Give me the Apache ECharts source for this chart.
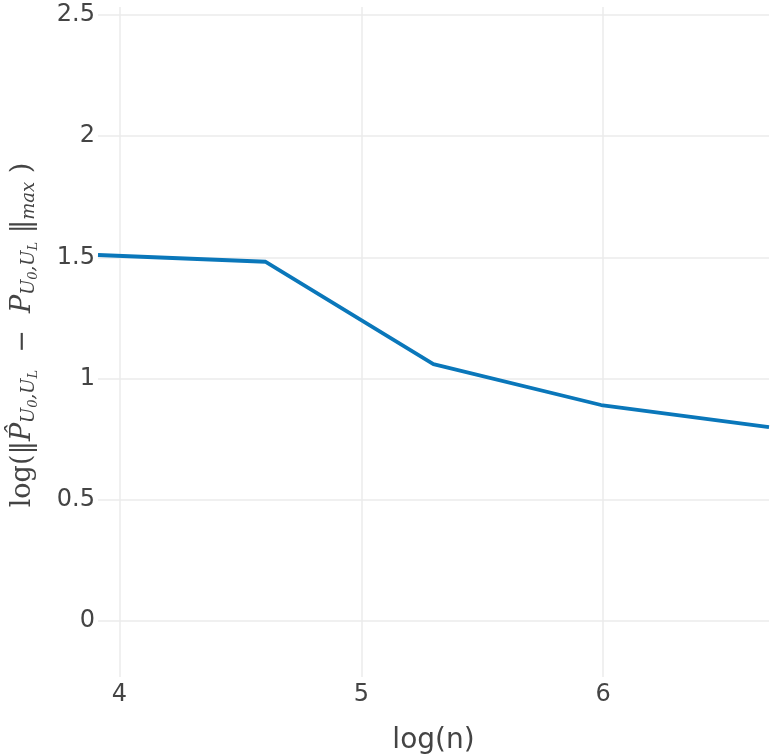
<!DOCTYPE html>
<html>
<head>
<meta charset="utf-8">
<script src="https://cdn.jsdelivr.net/npm/echarts@6/dist/echarts.min.js"></script>
<style>
  html, body { margin: 0; padding: 0; background: #fff; }
  #main { width: 776px; height: 754px; }
</style>
</head>
<body>
<div id="main"></div>
<script>
// log(n) for n = 50, 100, 200, 400, 800
var logN = [3.912, 4.605, 5.298, 5.991, 6.685];
// log of max error
var logErr = [1.510, 1.482, 1.060, 0.891, 0.800];
var xTicks = [4, 5, 6];
var yTicks = [0, 0.5, 1, 1.5, 2, 2.5];

var seriesData = [];
for (var i = 0; i < logN.length; i++) {
    seriesData.push([logN[i], logErr[i]]);
}

var myChart = echarts.init(document.getElementById('main'));

var serif = 'DejaVu Serif';
var option = {
    backgroundColor: '#fff',
    animation: false,
    grid: {
        left: 98,
        right: 7,
        top: 7,
        bottom: 77,
        outerBoundsMode: 'none'
    },
    xAxis: {
        type: 'value',
        min: 3.912,
        max: 6.685,
        name: 'log(n)',
        nameLocation: 'middle',
        nameGap: 50,
        nameTextStyle: { color: '#444', fontSize: 28, fontFamily: 'DejaVu Sans' },
        axisLine: { show: false },
        axisTick: { show: false, customValues: xTicks },
        axisLabel: {
            customValues: xTicks,
            color: '#444', fontSize: 24, fontFamily: 'DejaVu Sans', margin: 6
        },
        splitLine: { show: true, lineStyle: { color: '#ebebeb', width: 1.5 } }
    },
    yAxis: {
        type: 'value',
        min: -0.231,
        max: 2.533,
        name: '{t|log(‖}{p|P̂}{s|U}{ss|0}{s|,U}{ss|L}{t|  −  }{p|P}{s|U}{ss|0}{s|,U}{ss|L}{t| ‖}{s|max}{t| )}',
        nameLocation: 'middle',
        nameRotate: 90,
        nameGap: 58,
        nameTextStyle: {
            color: '#444',
            padding: [0, 0, 0, 14],
            rich: {
                t: { fontSize: 27, fontFamily: serif, color: '#444' },
                p: { fontSize: 27, fontFamily: serif, fontStyle: 'italic', color: '#444' },
                s: { fontSize: 18, fontFamily: serif, fontStyle: 'italic', color: '#444', padding: [14, 0, 0, 0] },
                ss: { fontSize: 13, fontFamily: serif, fontStyle: 'italic', color: '#444', padding: [22, 0, 0, 0] }
            }
        },
        axisLine: { show: false },
        axisTick: { show: false, customValues: yTicks },
        axisLabel: {
            customValues: yTicks,
            color: '#444', fontSize: 24, fontFamily: 'DejaVu Sans', margin: 3
        },
        splitLine: { show: true, lineStyle: { color: '#ebebeb', width: 1.5 } }
    },
    series: [{
        type: 'line',
        data: seriesData,
        showSymbol: false,
        lineStyle: { color: '#0a77ba', width: 3.8 },
        itemStyle: { color: '#0a77ba' }
    }]
};

myChart.setOption(option);
</script>
</body>
</html>
